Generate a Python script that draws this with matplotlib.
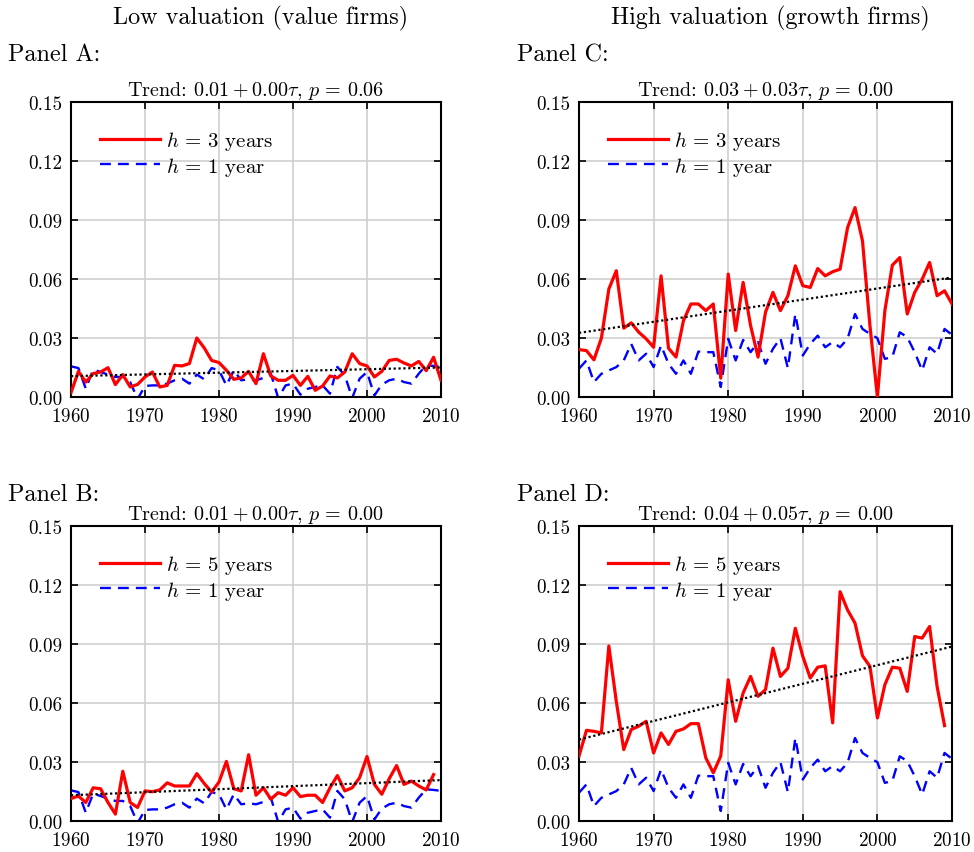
import numpy as np
import matplotlib
matplotlib.use("Agg")
import matplotlib.pyplot as plt

plt.rcParams['font.family'] = 'serif'
plt.rcParams['font.serif'] = ['cmr10', 'DejaVu Serif']
plt.rcParams['mathtext.fontset'] = 'cm'
plt.rcParams['axes.formatter.use_mathtext'] = True

years = np.arange(1960, 2011)
years5 = np.arange(1960, 2010)

# Panel A: value firms, h=3
value_h3 = [0.0022, 0.0130, 0.0076, 0.0119, 0.0127, 0.0149, 0.0063, 0.0114, 0.0051, 0.0064,
            0.0102, 0.0127, 0.0051, 0.0059, 0.0161, 0.0158, 0.0170, 0.0300, 0.0250, 0.0186,
            0.0175, 0.0136, 0.0090, 0.0097, 0.0130, 0.0068, 0.0220, 0.0107, 0.0085, 0.0085,
            0.0110, 0.0059, 0.0105, 0.0034, 0.0056, 0.0107, 0.0097, 0.0127, 0.0220, 0.0170,
            0.0158, 0.0102, 0.0130, 0.0186, 0.0192, 0.0173, 0.0158, 0.0181, 0.0134, 0.0202,
            0.0085]
# value firms, h=1
value_h1 = [0.0156, 0.0147, 0.0042, 0.0140, 0.0127, 0.0114, 0.0102, 0.0102, 0.0076, -0.0010,
            0.0056, 0.0059, 0.0059, 0.0068, 0.0085, 0.0093, 0.0068, 0.0114, 0.0090, 0.0147,
            0.0136, 0.0059, 0.0136, 0.0085, 0.0090, 0.0085, 0.0097, 0.0119, -0.0005, 0.0059,
            0.0068, 0.0012, 0.0042, 0.0051, 0.0059, 0.0017, 0.0153, 0.0110, -0.0005, 0.0093,
            0.0127, 0.0008, 0.0063, 0.0085, 0.0093, 0.0076, 0.0068, 0.0119, 0.0161, 0.0158,
            0.0153]
# Panel B: value firms, h=5 (ends 2009)
value_h5 = [0.0114, 0.0127, 0.0094, 0.0169, 0.0164, 0.0094, 0.0035, 0.0253, 0.0094, 0.0069,
            0.0153, 0.0149, 0.0158, 0.0194, 0.0178, 0.0178, 0.0178, 0.0241, 0.0191, 0.0147,
            0.0198, 0.0303, 0.0164, 0.0153, 0.0337, 0.0131, 0.0169, 0.0111, 0.0144, 0.0131,
            0.0169, 0.0124, 0.0131, 0.0131, 0.0094, 0.0169, 0.0231, 0.0153, 0.0169, 0.0220,
            0.0328, 0.0186, 0.0136, 0.0215, 0.0282, 0.0186, 0.0203, 0.0178, 0.0158, 0.0236]
# Panel C: growth firms, h=3
growth_h3 = [0.0241, 0.0236, 0.0189, 0.0299, 0.0549, 0.0642, 0.0350, 0.0377, 0.0330, 0.0296,
             0.0253, 0.0616, 0.0248, 0.0203, 0.0388, 0.0473, 0.0473, 0.0439, 0.0473, 0.0096,
             0.0625, 0.0338, 0.0583, 0.0363, 0.0203, 0.0431, 0.0532, 0.0439, 0.0515, 0.0667,
             0.0566, 0.0557, 0.0653, 0.0616, 0.0637, 0.0650, 0.0861, 0.0963, 0.0794, 0.0363,
             0.0000, 0.0439, 0.0670, 0.0709, 0.0422, 0.0532, 0.0599, 0.0684, 0.0515, 0.0540,
             0.0473]
# growth firms, h=1
growth_h1 = [0.0144, 0.0186, 0.0076, 0.0118, 0.0135, 0.0152, 0.0186, 0.0270, 0.0186, 0.0220,
             0.0152, 0.0262, 0.0169, 0.0118, 0.0186, 0.0118, 0.0231, 0.0228, 0.0228, 0.0051,
             0.0296, 0.0186, 0.0290, 0.0228, 0.0279, 0.0169, 0.0245, 0.0299, 0.0147, 0.0422,
             0.0211, 0.0270, 0.0312, 0.0253, 0.0279, 0.0253, 0.0296, 0.0422, 0.0346, 0.0321,
             0.0299, 0.0194, 0.0203, 0.0329, 0.0304, 0.0228, 0.0135, 0.0253, 0.0220, 0.0346,
             0.0316]
# Panel D: growth firms, h=5 (ends 2009)
growth_h5 = [0.0330, 0.0461, 0.0456, 0.0448, 0.0890, 0.0608, 0.0363, 0.0465, 0.0482, 0.0507,
             0.0346, 0.0448, 0.0389, 0.0456, 0.0468, 0.0495, 0.0495, 0.0321, 0.0245, 0.0330,
             0.0718, 0.0507, 0.0651, 0.0735, 0.0634, 0.0668, 0.0879, 0.0735, 0.0777, 0.0980,
             0.0837, 0.0727, 0.0782, 0.0789, 0.0499, 0.1166, 0.1073, 0.1006, 0.0840, 0.0786,
             0.0524, 0.0693, 0.0782, 0.0777, 0.0659, 0.0938, 0.0930, 0.0989, 0.0684, 0.0485]

# Trend line endpoints (1960, 2010)
trend_years = [1960, 2010]
trend_A = [0.0106, 0.0150]
trend_B = [0.0131, 0.0208]
trend_C = [0.0326, 0.0608]
trend_D = [0.0414, 0.0887]

titles = {
    'A': r"Trend: $0.01 + 0.00\tau$, $p\,=\,0.06$",
    'B': r"Trend: $0.01 + 0.00\tau$, $p\,=\,0.00$",
    'C': r"Trend: $0.03 + 0.03\tau$, $p\,=\,0.00$",
    'D': r"Trend: $0.04 + 0.05\tau$, $p\,=\,0.00$",
}

W, H = 974, 853
fig = plt.figure(figsize=(W / 100, H / 100), dpi=100)

def px_axes(left, right, top, bottom):
    return fig.add_axes([left / W, 1 - bottom / H, (right - left) / W, (bottom - top) / H])

panels = [
    ('A', px_axes(71, 441, 103, 398), years, value_h3, years, value_h1, trend_A, r"$h\,=\,3$ years"),
    ('C', px_axes(579, 952, 103, 398), years, growth_h3, years, growth_h1, trend_C, r"$h\,=\,3$ years"),
    ('B', px_axes(71, 441, 527, 822), years5, value_h5, years, value_h1, trend_B, r"$h\,=\,5$ years"),
    ('D', px_axes(579, 952, 527, 822), years5, growth_h5, years, growth_h1, trend_D, r"$h\,=\,5$ years"),
]

for key, ax, xr, yr, xb, yb, tr, lab in panels:
    ax.plot(xr, yr, color='#ff0000', lw=2.3, label=lab, zorder=3)
    ax.plot(xb, yb, color='#0000ff', lw=1.7, ls=(0, (4.6, 3.0)), label=r"$h\,=\,1$ year", zorder=2)
    ax.plot(trend_years, tr, color='black', lw=1.6, ls=(0, (1, 1.2)), zorder=4)
    ax.set_xlim(1960, 2010)
    ax.set_ylim(0, 0.15)
    ax.set_xticks(np.arange(1960, 2011, 10))
    ax.set_yticks(np.arange(0, 0.151, 0.03))
    ax.set_yticklabels([f"{v:.2f}" for v in np.arange(0, 0.151, 0.03)])
    ax.grid(True, color='#d0d0d0', lw=1.2)
    ax.set_axisbelow(True)
    ax.tick_params(direction='in', top=True, right=True, labelsize=13.8, length=5, width=1.2)
    ax.tick_params(axis='x', pad=7)
    ax.tick_params(axis='y', pad=6)
    for s in ax.spines.values():
        s.set_linewidth(1.5)
    ax.set_title(titles[key], fontsize=14.5, pad=5)
    ax.legend(loc='upper left', frameon=False, fontsize=15, handlelength=2.85,
              bbox_to_anchor=(0.045, 0.95), borderaxespad=0.2, labelspacing=0.12, handletextpad=0.3)

fig.text(261 / W, 1 - 18 / H, "Low valuation (value firms)", ha='center', va='center', fontsize=17.4)
fig.text(770 / W, 1 - 18 / H, "High valuation (growth firms)", ha='center', va='center', fontsize=17.4)
fig.text(8 / W, 1 - 55 / H, "Panel A:", ha='left', va='center', fontsize=17.4)
fig.text(517 / W, 1 - 55 / H, "Panel C:", ha='left', va='center', fontsize=17.4)
fig.text(8 / W, 1 - 495 / H, "Panel B:", ha='left', va='center', fontsize=17.4)
fig.text(517 / W, 1 - 495 / H, "Panel D:", ha='left', va='center', fontsize=17.4)

fig.savefig("out.png", dpi=100)
